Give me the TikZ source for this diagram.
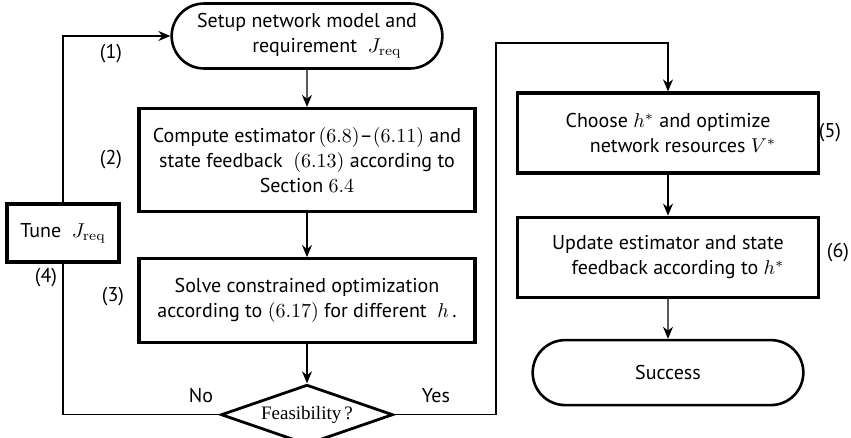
\documentclass[tikz,border=0pt]{standalone}
\usepackage[no-math]{fontspec}
\setmainfont{Liberation Serif}
\setsansfont{PT Sans}
\usetikzlibrary{arrows.meta,positioning,shapes.geometric,shapes.misc}

\begin{document}
\begin{tikzpicture}[x=0.5pt,y=-0.5pt,
  blk/.style={draw,line width=1.6pt,minimum width=168pt,align=center,
              inner sep=2pt,font=\sffamily\fontsize{10}{12.5}\selectfont},
  term/.style={draw,line width=1.3pt,rounded rectangle,minimum width=142pt,
               minimum height=32.5pt,align=center,
               font=\sffamily\fontsize{10}{12.5}\selectfont},
  dec/.style={draw,line width=1.4pt,diamond,aspect=2.9,inner sep=0pt,
              minimum width=86pt,minimum height=30pt,
              font=\rmfamily\fontsize{9.5}{11}\selectfont},
  lbl/.style={font=\sffamily\fontsize{10}{12}\selectfont},
  arr/.style={-{Stealth[length=6pt,width=5pt]},line width=0.7pt},
  ln/.style={line width=0.7pt}]
  \useasboundingbox (0,0) rectangle (851,438);
  \node[term](setup) at (307,36){Setup network model and\\
        \hspace*{2em}requirement\ \ $J_{\mathrm{req}}$};
  \node[blk,minimum height=51.5pt](est) at (307,160)
       {Compute\ estimator\,$(6.8)$--$(6.11)$ and\\
        state feedback\ \ $(6.13)$ according to\\Section\ $6.4$};
  \node[blk,minimum height=42pt,below=22pt of est](opt)
       {Solve constrained optimization\\
        according to\ $(6.17)$\ for different\ \ $h$\,.};
  \node[dec,below=19.5pt of opt](feas){Feasibility\,?};
  \node[blk,minimum width=56pt,minimum height=29pt](tune) at (63,233)
       {Tune\ \ $J_{\mathrm{req}}$};
  \node[blk,minimum width=150.5pt,minimum height=40pt](choose) at (668,133)
       {Choose\ $h^*$ and optimize\\\hspace*{1.5em}network resources $V^*$};
  \node[blk,minimum width=150.5pt,minimum height=40pt,below=20.5pt of choose]
       (upd){Update estimator and state\\
        \hspace*{1em}feedback according to\ $h^*$};
  \node[term,below=20pt of upd](succ){Success};
  \node[lbl](n1) at (111,54){(1)};
  \node[lbl](n2) at (111,160){(2)};
  \node[lbl](n3) at (113,297){(3)};
  \node[lbl](n4) at (46,278){(4)};
  \node[lbl](n5) at (830,133){(5)};
  \node[lbl](n6) at (838,253){(6)};
  \node[lbl](no) at (201,396){No};
  \node[lbl](yes) at (436,396){Yes};
  \coordinate(yesup) at (496,43);
  \draw[arr](setup)--(est);
  \draw[arr](est)--(opt);
  \draw[arr](opt)--(feas);
  \draw[ln](feas.west)-|(tune.south);
  \draw[arr](tune.north)|-(setup.west);
  \draw[arr](feas.east)-|(yesup)-|(choose.north);
  \draw[arr](choose)--(upd);
  \draw[arr](upd)--(succ);
\end{tikzpicture}
\end{document}
